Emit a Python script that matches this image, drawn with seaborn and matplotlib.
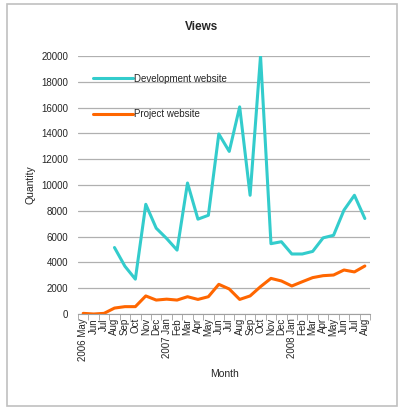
import numpy as np
import pandas as pd
import matplotlib
matplotlib.use('Agg')
import matplotlib.pyplot as plt
import seaborn as sns
from matplotlib.patches import Rectangle

# Data (May 2006 - Aug 2008)
months = ['2006 May', 'Jun', 'Jul', 'Aug', 'Sep', 'Oct', 'Nov', 'Dec',
          '2007 Jan', 'Feb', 'Mar', 'Apr', 'May', 'Jun', 'Jul', 'Aug', 'Sep', 'Oct', 'Nov', 'Dec',
          '2008 Jan', 'Feb', 'Mar', 'Apr', 'May', 'Jun', 'Jul', 'Aug']
dev_views = [np.nan, np.nan, np.nan, 5150, 3700, 2700, 8500, 6650,
             5850, 4950, 10150, 7350, 7650, 13950, 12600, 16050, 9200, 20000, 5450, 5600,
             4650, 4650, 4850, 5900, 6100, 8050, 9200, 7400]
project_views = [50, 0, 50, 460, 570, 570, 1400, 1080,
                 1150, 1080, 1340, 1130, 1340, 2300, 1940, 1130, 1400, 2120, 2760, 2560,
                 2170, 2500, 2820, 2970, 3020, 3410, 3260, 3720]

df = pd.DataFrame({
    'idx': list(range(len(months))) * 2,
    'views': dev_views + project_views,
    'series': ['Development website'] * len(months) + ['Project website'] * len(months),
})

sns.set_style('white')
plt.rcParams['font.family'] = ['Liberation Sans', 'DejaVu Sans']

fig = plt.figure(figsize=(4.04, 4.11), dpi=100)
ax = fig.add_axes([0.193, 0.236, 0.723, 0.628])

# outer chart border
fig.patches.append(Rectangle((7 / 404, 5 / 411), 390 / 404, 402 / 411, transform=fig.transFigure,
                             fill=False, edgecolor='#c0c0c0', linewidth=1.2))

sns.lineplot(data=df, x='idx', y='views', hue='series',
             palette={'Development website': '#33cccc', 'Project website': '#ff6600'},
             linewidth=2.2, ax=ax)

ax.set_xlim(-0.5, len(months) - 0.5)
ax.set_ylim(0, 20000)
ax.set_yticks(range(0, 20001, 2000))
ax.yaxis.grid(True, color='#b0b0b0', linewidth=0.9)
ax.set_axisbelow(True)
for s in ['top', 'right', 'left']:
    ax.spines[s].set_visible(False)
ax.spines['bottom'].set_color('#a0a0a0')

ax.set_xticks(range(len(months)))
ax.set_xticklabels(months, rotation=90, fontsize=7)
ax.set_xticks(np.arange(-0.5, len(months)), minor=True)
ax.tick_params(axis='x', which='major', length=0, pad=3)
ax.tick_params(axis='x', which='minor', length=4, color='#a0a0a0', bottom=True)
ax.tick_params(axis='y', length=0, labelsize=7, pad=7)

ax.set_xlabel('Month', fontsize=7.5, labelpad=6)
ax.set_ylabel('Quantity', fontsize=7.5, labelpad=4)
fig.text(0.5, 0.934, 'Views', ha='center', va='center', fontsize=8.5, fontweight='bold')

ax.legend(loc='upper left', bbox_to_anchor=(0.02, 0.965), frameon=False, fontsize=7,
          handlelength=4.2, labelspacing=2.6, handletextpad=0.1)

fig.savefig('out.png', dpi=100)
